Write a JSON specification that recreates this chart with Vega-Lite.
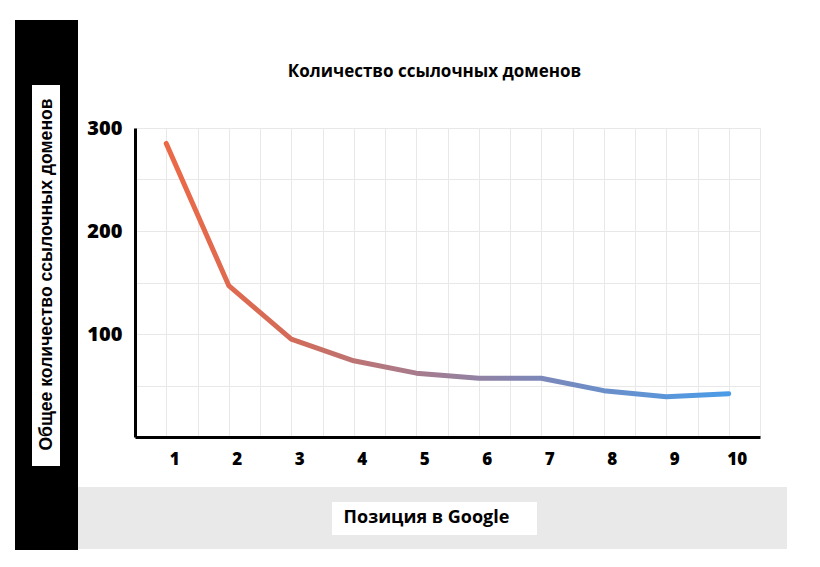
{
  "$schema": "https://vega.github.io/schema/vega-lite/v6.json",
  "background": "white",
  "padding": {"left": 15, "top": 20, "right": 0, "bottom": 0},
  "spacing": 0,
  "config": {"view": {"stroke": null}},
  "hconcat": [
    {
      "spacing": 0,
      "vconcat": [
        {"width": 63, "height": 65, "view": {"fill": "black"}, "data": {"values": []}, "mark": "point"},
        {
          "spacing": 0,
          "bounds": "flush",
          "hconcat": [
            {"width": 17, "height": 381, "view": {"fill": "black"}, "data": {"values": []}, "mark": "point"},
            {
              "width": 28,
              "height": 381,
              "view": {"fill": "white"},
              "data": {"values": [{"label": "Общее количество ссылочных доменов"}]},
              "mark": {"type": "text", "angle": 270, "font": "Liberation Sans", "fontWeight": "bold", "fontSize": 17.6, "color": "black", "dy": 1, "dx": 1},
              "encoding": {"text": {"field": "label"}}
            },
            {"width": 18, "height": 381, "view": {"fill": "black"}, "data": {"values": []}, "mark": "point"}
          ]
        },
        {"width": 63, "height": 84, "view": {"fill": "black"}, "data": {"values": []}, "mark": "point"}
      ]
    },
    {
      "spacing": 0,
      "vconcat": [
        {
          "width": 709,
          "height": 98,
          "data": {"values": [{"label": "Количество ссылочных доменов"}]},
          "mark": {"type": "text", "font": "Open Sans", "fontWeight": "bold", "fontSize": 17, "color": "black", "dx": 2, "dy": 3},
          "encoding": {"text": {"field": "label"}}
        },
        {
          "spacing": 0,
          "bounds": "flush",
          "hconcat": [
            {"width": 57, "height": 309, "data": {"values": []}, "mark": "point"},
            {
              "width": 625,
              "height": 309,
              "data": {
                "values": [
                  {"position": 1, "domains": 285},
                  {"position": 2, "domains": 147},
                  {"position": 3, "domains": 95},
                  {"position": 4, "domains": 74},
                  {"position": 5, "domains": 62},
                  {"position": 6, "domains": 57},
                  {"position": 7, "domains": 57},
                  {"position": 8, "domains": 45},
                  {"position": 9, "domains": 39},
                  {"position": 10, "domains": 42}
                ]
              },
              "mark": {
                "type": "line",
                "strokeWidth": 5,
                "strokeCap": "round",
                "strokeJoin": "round",
                "stroke": {
                  "gradient": "linear",
                  "x1": 0, "y1": 0, "x2": 1, "y2": 0,
                  "stops": [
                    {"offset": 0, "color": "#ec6946"},
                    {"offset": 0.22, "color": "#d36b58"},
                    {"offset": 0.44, "color": "#a87b8c"},
                    {"offset": 0.67, "color": "#7b88ba"},
                    {"offset": 1, "color": "#4a9ce8"}
                  ]
                }
              },
              "encoding": {
                "x": {
                  "field": "position",
                  "type": "quantitative",
                  "scale": {"domain": [0.5, 10.5], "nice": false, "zero": false},
                  "axis": {
                    "title": null,
                    "values": [0.5, 1, 1.5, 2, 2.5, 3, 3.5, 4, 4.5, 5, 5.5, 6, 6.5, 7, 7.5, 8, 8.5, 9, 9.5, 10, 10.5],
                    "labelExpr": "datum.value % 1 == 0 ? '' + datum.value : ''",
                    "ticks": false,
                    "tickSize": 0,
                    "labelPadding": 14,
                    "labelOffset": 8,
                    "labelFont": "Open Sans",
                    "labelFontWeight": 800,
                    "labelFontSize": 17,
                    "labelColor": "black",
                    "labelOverlap": false,
                    "labelBound": false,
                    "domainColor": "black",
                    "domainWidth": 3,
                    "gridColor": "#e8e8e8",
                    "gridWidth": 1
                  }
                },
                "y": {
                  "field": "domains",
                  "type": "quantitative",
                  "scale": {"domain": [0, 300], "nice": false},
                  "axis": {
                    "title": null,
                    "values": [0, 50, 100, 150, 200, 250, 300],
                    "labelExpr": "datum.value > 0 && datum.value % 100 == 0 ? '' + datum.value : ''",
                    "ticks": false,
                    "tickSize": 0,
                    "labelPadding": 13,
                    "labelFont": "Open Sans",
                    "labelFontWeight": 800,
                    "labelFontSize": 20,
                    "labelColor": "black",
                    "labelOverlap": false,
                    "labelBound": false,
                    "domainColor": "black",
                    "domainWidth": 3,
                    "gridColor": "#e8e8e8",
                    "gridWidth": 1
                  }
                }
              }
            }
          ]
        },
        {"width": 709, "height": 20, "data": {"values": []}, "mark": "point"},
        {"width": 709, "height": 15, "view": {"fill": "#e9e9e9"}, "data": {"values": []}, "mark": "point"},
        {
          "spacing": 0,
          "bounds": "flush",
          "hconcat": [
            {"width": 254, "height": 33, "view": {"fill": "#e9e9e9"}, "data": {"values": []}, "mark": "point"},
            {
              "width": 205,
              "height": 33,
              "view": {"fill": "white"},
              "data": {"values": [{"label": "Позиция в Google"}]},
              "mark": {"type": "text", "font": "Open Sans", "fontWeight": "bold", "fontSize": 18, "color": "black", "dx": -8, "dy": -1},
              "encoding": {"text": {"field": "label"}}
            },
            {"width": 250, "height": 33, "view": {"fill": "#e9e9e9"}, "data": {"values": []}, "mark": "point"}
          ]
        },
        {"width": 709, "height": 14, "view": {"fill": "#e9e9e9"}, "data": {"values": []}, "mark": "point"}
      ]
    }
  ]
}
